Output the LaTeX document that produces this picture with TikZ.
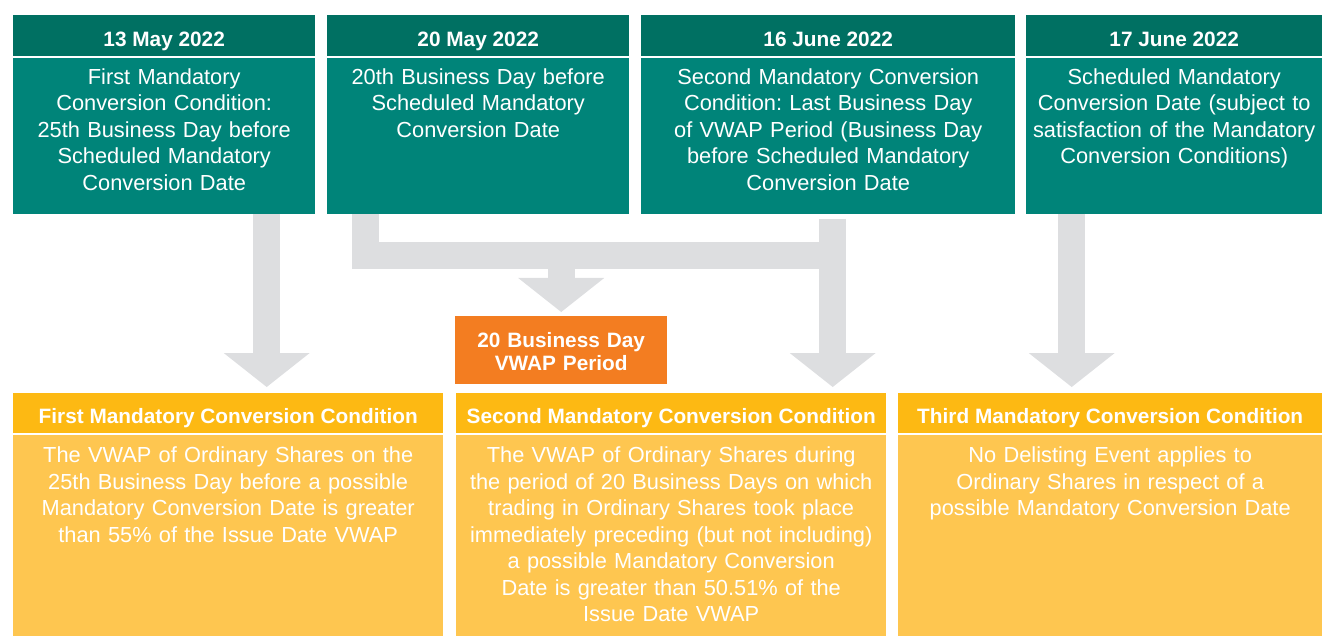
\documentclass[tikz,border=0pt]{standalone}
\usepackage{fontspec}
\setmainfont{Liberation Sans}
\usetikzlibrary{positioning,arrows.meta}
\frenchspacing
\definecolor{tealhead}{RGB}{0,112,98}
\definecolor{tealbody}{RGB}{0,132,121}
\definecolor{goldhead}{RGB}{253,185,19}
\definecolor{goldbody}{RGB}{254,198,80}
\definecolor{vwap}{RGB}{243,125,33}
\definecolor{flow}{RGB}{221,222,224}
\tikzset{
  box/.style = {inner sep=0pt, text=white, align=center},
  headfont/.style = {font=\bfseries\fontsize{20.8}{23}\selectfont},
  bodyfont/.style = {font=\fontsize{21.8}{26.5}\selectfont},
  datehead/.style = {box, headfont, fill=tealhead, text height=31.5pt, text depth=9.5pt},
  datebody/.style = {box, bodyfont, fill=tealbody, text height=26.5pt, text depth=129.5pt},
  condhead/.style = {box, headfont, fill=goldhead, text height=30.5pt, text depth=9.5pt},
  condbody/.style = {box, bodyfont, fill=goldbody, text height=28pt, text depth=174pt},
  period/.style = {box, headfont, fill=vwap, text height=31pt, text depth=37pt},
  flowline/.style = {draw=flow, line width=27pt},
  flowarrow/.style = {flowline, -{Triangle[width=86pt,length=34pt,line width=0pt]}}
}

\begin{document}
\begin{tikzpicture}[x=1pt,y=-1pt]
  \useasboundingbox (0,0) rectangle (1322,636);
  % dates
  \foreach \n/\x/\w/\day/\txt in {
    1/13/302/{13 May 2022}/{First Mandatory\\Conversion Condition:\\25th Business Day before\\Scheduled Mandatory\\Conversion Date},
    2/327/302/{20 May 2022}/{20th Business Day before\\Scheduled Mandatory\\Conversion Date},
    3/641/374/{16 June 2022}/{Second Mandatory Conversion\\Condition: Last Business Day\\of VWAP Period (Business Day\\before Scheduled Mandatory\\Conversion Date},
    4/1026/296/{17 June 2022}/{Scheduled Mandatory\\Conversion Date (subject to\\satisfaction of the Mandatory\\Conversion Conditions)}} {
    \node[datehead, minimum width=\w pt, anchor=north west] (dh\n) at (\x,15) {\day};
    \node[datebody, text width=\w pt, below=1pt of dh\n] (d\n) {\txt};
  }
  % conditions
  \foreach \n/\x/\w/\head/\txt in {
    1/13/430/{First Mandatory Conversion Condition}/{The VWAP of Ordinary Shares on the\\25th Business Day before a possible\\Mandatory Conversion Date is greater\\than 55\% of the Issue Date VWAP},
    2/456/430/{Second Mandatory Conversion Condition}/{The VWAP of Ordinary Shares during\\the period of 20 Business Days on which\\trading in Ordinary Shares took place\\immediately preceding (but not including)\\a possible Mandatory Conversion\\Date is greater than 50.51\% of the\\Issue Date VWAP},
    3/898/424/{Third Mandatory Conversion Condition}/{No Delisting Event applies to\\Ordinary Shares in respect of a\\possible Mandatory Conversion Date}} {
    \node[condhead, minimum width=\w pt, anchor=north west] (ch\n) at (\x,393) {\head};
    \node[condbody, text width=\w pt, below=1pt of ch\n] (c\n) {\txt};
  }
  \node[period, text width=212pt, anchor=north west] (p) at (455,316) {20 Business Day\\VWAP Period};

  % arrows
  \coordinate (s1) at ([xshift=102.5pt]d1.south);
  \coordinate (s2) at ([xshift=-113pt]d2.south);
  \coordinate (s3) at ([xshift=4.5pt,yshift=-5pt]d3.south);
  \coordinate (s4) at ([xshift=-102.5pt]d4.south);
  \coordinate (bar) at ([yshift=-42pt]s2);
  \draw[flowarrow, shorten >=6pt] (s1) -- (s1 |- ch1.north);
  \draw[flowline] (s2) -- (bar) -- (bar -| s3);
  \draw[flowarrow, shorten >=4pt] (p.north |- bar) -- (p.north);
  \draw[flowarrow, shorten >=6pt] (s3) -- (s3 |- ch2.north);
  \draw[flowarrow, shorten >=6pt] (s4) -- (s4 |- ch3.north);
\end{tikzpicture}
\end{document}
